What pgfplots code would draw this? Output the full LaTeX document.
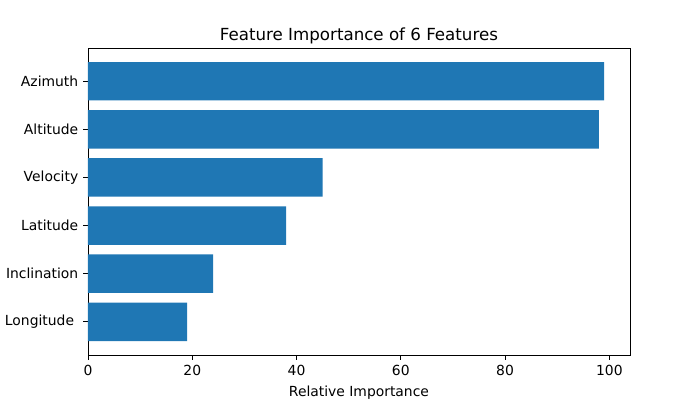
\documentclass[border=0pt]{standalone}
\usepackage{pgfplots}
\pgfplotsset{compat=1.18}
\usepackage{fontspec}
\setmainfont{DejaVu Sans}
\definecolor{mplblue}{HTML}{1F77B4}
\begin{document}
\begin{tikzpicture}[x=0.72pt,y=0.72pt]
\useasboundingbox (-88,-45) rectangle (612,355);
\begin{axis}[
    at={(0,0)}, anchor=south west,
    scale only axis,
    width=390.2pt, height=221pt,
    xbar, bar width=0.8, bar shift=0pt,
    xmin=0, xmax=103.95,
    ymin=-0.69, ymax=5.69,
    ytick={0,1,2,3,4,5},
    yticklabels={Longitude\hspace*{3pt},Inclination,Latitude,Velocity,Altitude,Azimuth},
    xtick={0,20,40,60,80,100},
    tick align=outside, tick pos=left,
    major tick length=3.5pt,
    axis line style={line width=0.6pt},
    every tick/.style={black, line width=0.6pt},
    tick label style={font=\fontsize{10}{12}\selectfont},
    /pgf/number format/assume math mode=true,
    xlabel={Relative Importance},
    xlabel style={font=\fontsize{10}{12}\selectfont, yshift=-1pt},
    title={Feature Importance of 6 Features},
    title style={font=\fontsize{12}{14}\selectfont, yshift=-6.5pt},
]
\addplot[fill=mplblue, draw=none] coordinates {
    (19,0) (24,1) (38,2) (45,3) (98,4) (99,5)
};
\end{axis}
\end{tikzpicture}
\end{document}
